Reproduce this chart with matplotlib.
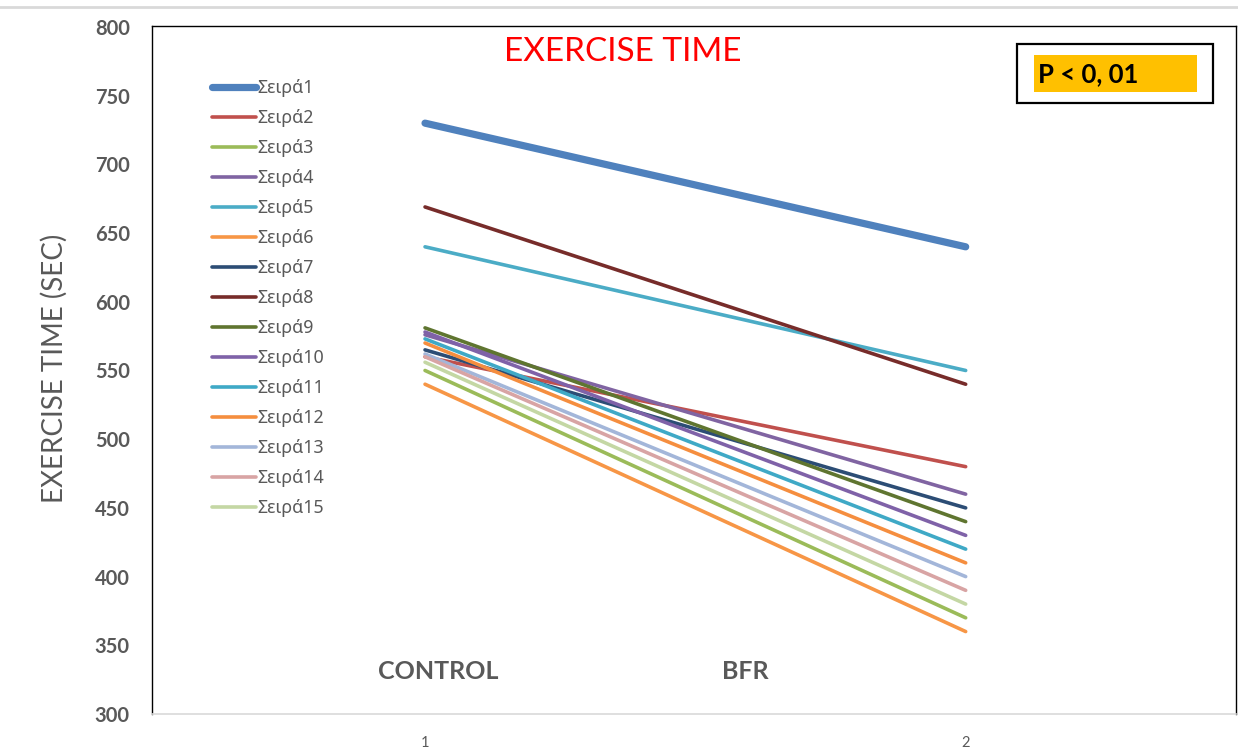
import matplotlib
matplotlib.use("Agg")
import matplotlib.pyplot as plt
from matplotlib.lines import Line2D
from matplotlib.patches import Rectangle

# ---- data ----
x_positions = [1, 2]
series_names = [f"Σειρά{i}" for i in range(1, 16)]
control_values = [730, 560, 550, 576, 640, 540, 565, 669, 581, 578, 573, 570, 562, 560, 556]
bfr_values     = [640, 480, 370, 460, 550, 360, 450, 540, 440, 430, 420, 410, 400, 390, 380]
series_colors = ["#4F81BD", "#C0504D", "#9BBB59", "#8064A2", "#4BACC6", "#F79646",
                 "#2C4D75", "#772C2A", "#5F7530", "#7F62A8", "#3FA9C6", "#F58E3F",
                 "#A3B6D9", "#D8A4A4", "#C4D7A4"]
y_ticks = [300, 350, 400, 450, 500, 550, 600, 650, 700, 750, 800]
x_tick_labels = ["1", "2"]
group_labels = ["CONTROL", "BFR"]

W, H = 1238, 756
fig = plt.figure(figsize=(W / 100, H / 100), dpi=100)
fig.patch.set_facecolor("white")

def px(x0, y0, x1, y1):
    return [x0 / W, 1 - y1 / H, (x1 - x0) / W, (y1 - y0) / H]

ax = fig.add_axes(px(152, 26, 1236, 714))
grey = "#595959"

for i, name in enumerate(series_names):
    lw = 5.2 if i == 0 else 2.6
    ax.plot(x_positions, [control_values[i], bfr_values[i]], color=series_colors[i],
            lw=lw, solid_capstyle="round", label=name, zorder=20 - i if i == 0 else 3 + i)

ax.set_xlim(0.495, 2.5)
ax.set_ylim(300, 800.7)
ax.set_yticks(y_ticks)
ax.set_yticklabels([str(v) for v in y_ticks], fontfamily="Lato", fontweight="bold",
                   fontsize=14.5, color=grey)
ax.set_xticks(x_positions)
ax.set_xticklabels(x_tick_labels, fontfamily="Lato", fontsize=10.5, color=grey)
ax.tick_params(axis="y", length=0, pad=16)
ax.tick_params(axis="x", length=0, pad=16)

for s in ["left", "top", "right"]:
    ax.spines[s].set_color("black")
    ax.spines[s].set_linewidth(1.0)
ax.spines["bottom"].set_color("#D9D9D9")
ax.spines["bottom"].set_linewidth(1.2)

ax.set_ylabel("EXERCISE TIME (SEC)", fontfamily="Lato", fontsize=20, color=grey)
ax.yaxis.set_label_coords(-0.0775, 0.502)

# group labels
ax.text(x_positions[0] + 0.024, 331, group_labels[0], fontfamily="Lato", fontweight="bold",
        fontsize=18, color=grey, ha="center", va="center")
ax.text(1.593, 331, group_labels[1], fontfamily="Lato", fontweight="bold",
        fontsize=18, color=grey, ha="center", va="center")

# title
fig.text(623 / W, 1 - 52 / H, "EXERCISE TIME", fontfamily="Lato", fontsize=24,
         color="#FF0000", ha="center", va="center")

# legend
leg = ax.legend(loc="upper left", bbox_to_anchor=(212 / W, 1 - 79 / H),
                bbox_transform=fig.transFigure, frameon=False,
                prop={"family": "Noto Sans", "size": 12.8}, labelcolor=grey,
                handlelength=2.45, handletextpad=0.12, labelspacing=0.677,
                borderpad=0, borderaxespad=0)
for h in leg.get_lines():
    h.set_solid_capstyle("round")

# p-value box
fig.add_artist(Rectangle(((1017) / W, 1 - 103 / H), 196 / W, 59 / H,
                         transform=fig.transFigure, fill=False, ec="black", lw=1.6))
fig.add_artist(Rectangle((1034 / W, 1 - 92 / H), 163 / W, 37 / H,
                         transform=fig.transFigure, fc="#FFC000", ec="none"))
fig.text(1038 / W, 1 - 74 / H, "P < 0, 01", fontfamily="Lato", fontweight="bold",
         fontsize=18.5, color="black", ha="left", va="center")

# top grey border line
fig.add_artist(Line2D([0, 1], [1 - 7 / H, 1 - 7 / H], transform=fig.transFigure,
                      color="#D9D9D9", lw=2))

fig.savefig("out.png", dpi=100)
